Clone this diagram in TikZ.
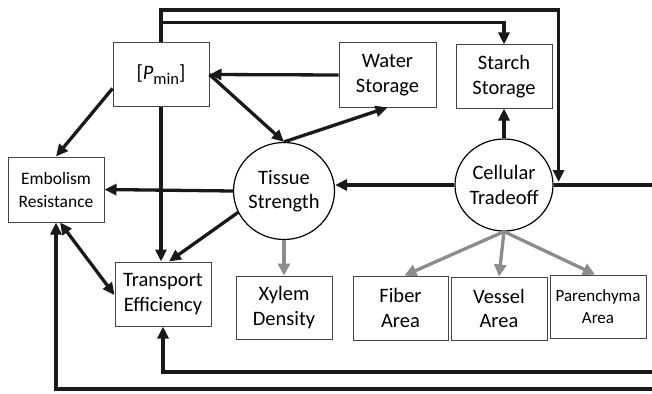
\documentclass[tikz,border=0pt]{standalone}
\usepackage{fontspec}
\setmainfont{Carlito}
\usetikzlibrary{arrows.meta,shapes.geometric,calc}
\definecolor{boxgray}{RGB}{70,70,70}
\definecolor{arrgray}{RGB}{140,140,140}

\begin{document}
\begin{tikzpicture}[x=1pt,y=-1pt,
  txt/.style={font=\fontsize{20.5}{24.5}\selectfont, align=center, inner sep=0pt},
  box/.style={txt, draw=boxgray, line width=1pt, rectangle,
    minimum width=96pt, minimum height=63pt},
  blob/.style={txt, draw=black, line width=1.2pt, ellipse},
  link/.style={line width=3.3pt, draw=black!90},
  arr/.style={link, -{Triangle[length=12pt,width=11pt]}},
  arrboth/.style={link, {Triangle[length=12pt,width=11pt]}-{Triangle[length=12pt,width=11pt]}},
  garr/.style={line width=3.3pt, draw=arrgray, -{Triangle[length=12pt,width=12pt]}}
]
\useasboundingbox (0,0) rectangle (652,393);

% boxes
\node[box] (pmin) at (161,74.5) {[\textit{P}\raisebox{-4.5pt}{\fontsize{16.5}{16.5}\selectfont min}]};
\node[box, minimum width=97pt, minimum height=64pt] (water) at (387.5,75) {Water\\Storage};
\node[box] (starch) at (504,76.5) {Starch\\Storage};
\node[box, minimum height=65pt, font=\fontsize{17.5}{23}\selectfont] (emb) at (56,189.5) {Embolism\\Resistance};
\node[box, minimum height=64pt] (trans) at (163,294) {Transport\\Efficiency};
\node[box] (xylem) at (284,307.5) {Xylem\\Density};
\node[box, minimum width=95pt, minimum height=64pt] (fiber) at (400.5,308) {Fiber\\Area};
\node[box] (vessel) at (499,308.5) {Vessel\\Area};
\node[box, font=\fontsize{17}{21.5}\selectfont] (paren) at (598,306.5) {Parenchyma\\Area};

% latent variables
\node[blob, minimum width=101pt, minimum height=97pt] (tissue) at (284,191) {Tissue\\Strength};
\node[blob, minimum width=98pt, minimum height=92pt] (cell) at (504,185) {Cellular\\Tradeoff};

% helper points for the routed connectors
\path (cell.east) ++(5,-175) coordinate (j1);
\path (cell.east) ++(5,-3) coordinate (j1e);
\path (starch.north) ++(0,-22) coordinate (j2);
\coordinate (rin) at (652,185);
\coordinate (rb1) at (652,372);
\coordinate (rb2) at (652,389);

% black paths
\draw[arr] (pmin.north) |- (j1) -- (j1e);
\draw[arr] (pmin.north) |- (j2) -- (starch.north);
\draw[arr] (water.west) -- (pmin.east);
\draw[arr] (pmin.east) -- (tissue.north);
\draw[arr] (tissue.north) -- (water.south);
\draw[arr] (cell.north) -- (starch.south);
\draw[arr] (cell.west) -- (cell.west -| tissue.east);
\draw[link] (rin) -- (cell.east);
\draw[arr] (tissue.west) -- (emb.east);
\draw[arr] (tissue.205) -- ([xshift=6pt]trans.north);
\draw[arr] (pmin.south) -- (pmin.south |- trans.north);
\draw[arr] ([yshift=-14pt]pmin.west) -- (emb.north);
\draw[arrboth] ([xshift=4pt]emb.south) -- ([yshift=-1pt]trans.west);
\draw[arr] (rb1) -| (trans.south);
\draw[arr] (rb2) -| (emb.south);

% gray paths
\draw[garr] (tissue.south) -- (xylem.north);
\draw[garr] (cell.south) -- ([xshift=4pt]fiber.north);
\draw[garr] (cell.south) -- (vessel.north);
\draw[garr] (cell.south) -- ([xshift=-3pt]paren.north);
\end{tikzpicture}
\end{document}
